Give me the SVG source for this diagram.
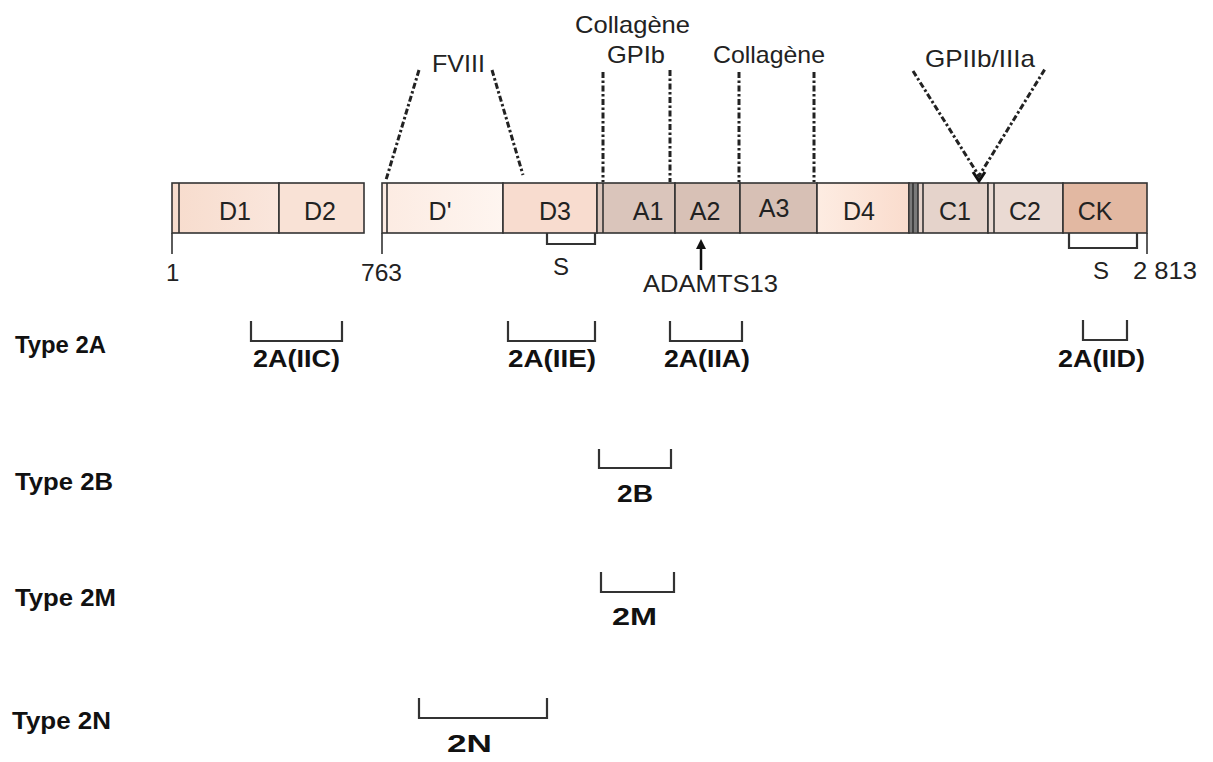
<svg xmlns="http://www.w3.org/2000/svg" width="1213" height="762" viewBox="0 0 1213 762">
<defs>
<style>
.box{stroke:#333;stroke-width:1.6}
.sep{stroke:#333;stroke-width:1.6;fill:none}
.lbl{font-family:"Liberation Sans",Arial,sans-serif;font-size:25px;fill:#222;text-anchor:middle}
.txt{font-family:"Liberation Sans",Arial,sans-serif;font-size:24px;fill:#222}
.bold{font-family:"Liberation Sans",Arial,sans-serif;font-size:23px;font-weight:bold;fill:#111}
.dd{stroke:#222;stroke-width:3;fill:none;stroke-dasharray:6 2.5 2.5 2.5}
.br{stroke:#333;stroke-width:2.2;fill:none}
</style>
<linearGradient id="gD" x1="0" x2="1" y1="0" y2="0"><stop offset="0" stop-color="#f7dccd"/><stop offset="1" stop-color="#fae6dc"/></linearGradient>
<linearGradient id="gDp" x1="0" x2="1" y1="0" y2="0"><stop offset="0" stop-color="#fcebe2"/><stop offset="1" stop-color="#fef5f0"/></linearGradient>
<linearGradient id="gD4" x1="0" x2="1" y1="0" y2="0"><stop offset="0" stop-color="#fdece2"/><stop offset="1" stop-color="#fadccd"/></linearGradient>
<marker id="arr" markerWidth="10" markerHeight="10" refX="5" refY="5" orient="auto" markerUnits="userSpaceOnUse"><path d="M0,0 L10,5 L0,10 z" fill="#111"/></marker>
</defs>
<rect width="1213" height="762" fill="#fff"/>

<g id="domains">
<g id="D1"><rect class="box" x="172" y="183" width="107" height="50" fill="url(#gD)"/><line class="sep" x1="179" y1="183" x2="179" y2="233"/><text class="lbl" x="235" y="220">D1</text></g>
<g id="D2"><rect class="box" x="279" y="183" width="85" height="50" fill="#f9e2d6"/><text class="lbl" x="320" y="220">D2</text></g>
<g id="Dprime"><rect class="box" x="382" y="183" width="121" height="50" fill="url(#gDp)"/><line class="sep" x1="387" y1="183" x2="387" y2="233"/><text class="lbl" x="440" y="220">D'</text></g>
<g id="D3"><rect class="box" x="503" y="183" width="94" height="50" fill="#f8dccf"/><text class="lbl" x="555" y="220">D3</text></g>
<g id="A1"><rect class="box" x="597" y="183" width="78" height="50" fill="#dac5bb"/><line class="sep" x1="603" y1="183" x2="603" y2="233"/><text class="lbl" x="648" y="220">A1</text></g>
<g id="A2"><rect class="box" x="675" y="183" width="65" height="50" fill="#d8c1b6"/><text class="lbl" x="705" y="220">A2</text></g>
<g id="A3"><rect class="box" x="740" y="183" width="77" height="50" fill="#d7c0b5"/><text class="lbl" x="774" y="217">A3</text></g>
<g id="D4"><rect class="box" x="817" y="183" width="92" height="50" fill="url(#gD4)"/><text class="lbl" x="859" y="220">D4</text></g>
<g id="C1"><rect class="box" x="909" y="183" width="79" height="50" fill="#e5d3cb"/><rect x="910" y="184" width="8" height="48" fill="#7a7a7a"/><line class="sep" x1="913" y1="183" x2="913" y2="233"/><line class="sep" x1="918" y1="183" x2="918" y2="233"/><line class="sep" x1="923" y1="183" x2="923" y2="233"/><text class="lbl" x="955" y="220">C1</text></g>
<g id="C2"><rect class="box" x="988" y="183" width="75" height="50" fill="#eadad3"/><line class="sep" x1="994" y1="183" x2="994" y2="233"/><text class="lbl" x="1025" y="220">C2</text></g>
<g id="CK"><rect class="box" x="1063" y="183" width="84" height="50" fill="#e2b8a2"/><text class="lbl" x="1095" y="220">CK</text></g>
</g>

<g id="ticks">
<line class="sep" x1="172" y1="233" x2="172" y2="254"/>
<line class="sep" x1="382" y1="233" x2="382" y2="254"/>
<line class="sep" x1="1147" y1="233" x2="1147" y2="254"/>
<text class="txt" x="166" y="281">1</text>
<text class="txt" x="361" y="281" textLength="41" lengthAdjust="spacingAndGlyphs">763</text>
<text class="txt" x="1133" y="279" textLength="64" lengthAdjust="spacingAndGlyphs">2 813</text>
<path class="br" d="M547,233 V244 H595 V233"/>
<text class="txt" x="561" y="275" text-anchor="middle">S</text>
<path class="br" d="M1069,233 V248 H1137 V233"/>
<text class="txt" x="1101" y="279" text-anchor="middle">S</text>
</g>

<g id="connectors">
<polyline class="dd" points="419,70 386,180"/>
<polyline class="dd" points="492,70 523,175"/>
<line class="dd" x1="603" y1="72" x2="603" y2="182"/>
<line class="dd" x1="670" y1="70" x2="670" y2="182"/>
<line class="dd" x1="739" y1="72" x2="739" y2="182"/>
<line class="dd" x1="814" y1="72" x2="814" y2="182"/>
<polyline class="dd" points="913,71 979,176 1045,69"/>
<path d="M973,172 L979,181 L985,172" fill="none" stroke="#111" stroke-width="3"/>
<line x1="701" y1="270" x2="701" y2="244" stroke="#111" stroke-width="2.5" marker-end="url(#arr)"/>
</g>

<g id="site-labels">
<text class="txt" x="432" y="72" textLength="53" lengthAdjust="spacingAndGlyphs">FVIII</text>
<text class="txt" x="575" y="33" textLength="115" lengthAdjust="spacingAndGlyphs">Collagène</text>
<text class="txt" x="607" y="63" textLength="58" lengthAdjust="spacingAndGlyphs">GPIb</text>
<text class="txt" x="713" y="63" textLength="112" lengthAdjust="spacingAndGlyphs">Collagène</text>
<text class="txt" x="925" y="67" textLength="110" lengthAdjust="spacingAndGlyphs">GPIIb/IIIa</text>
<text class="txt" x="643" y="292" textLength="135" lengthAdjust="spacingAndGlyphs">ADAMTS13</text>
</g>

<g id="type2A">
<text class="bold" x="15" y="353" textLength="91" lengthAdjust="spacingAndGlyphs">Type 2A</text>
<path class="br" d="M251,321 V341 H342 V321"/>
<text class="bold" x="253" y="367" textLength="87" lengthAdjust="spacingAndGlyphs">2A(IIC)</text>
<path class="br" d="M508,321 V341 H595 V321"/>
<text class="bold" x="508" y="367" textLength="88" lengthAdjust="spacingAndGlyphs">2A(IIE)</text>
<path class="br" d="M670,321 V341 H742 V321"/>
<text class="bold" x="664" y="367" textLength="86" lengthAdjust="spacingAndGlyphs">2A(IIA)</text>
<path class="br" d="M1083,320 V340 H1127 V320"/>
<text class="bold" x="1058" y="367" textLength="87" lengthAdjust="spacingAndGlyphs">2A(IID)</text>
</g>

<g id="type2B">
<text class="bold" x="15" y="490" textLength="98" lengthAdjust="spacingAndGlyphs">Type 2B</text>
<path class="br" d="M599,449 V468 H671 V449"/>
<text class="bold" x="617" y="502" textLength="36" lengthAdjust="spacingAndGlyphs">2B</text>
</g>

<g id="type2M">
<text class="bold" x="15" y="606" textLength="101" lengthAdjust="spacingAndGlyphs">Type 2M</text>
<path class="br" d="M601,572 V592 H674 V572"/>
<text class="bold" x="612" y="625" textLength="45" lengthAdjust="spacingAndGlyphs">2M</text>
</g>

<g id="type2N">
<text class="bold" x="12" y="729" textLength="99" lengthAdjust="spacingAndGlyphs">Type 2N</text>
<path class="br" d="M419,698 V718 H547 V698"/>
<text class="bold" x="447" y="752" textLength="45" lengthAdjust="spacingAndGlyphs">2N</text>
</g>
</svg>
